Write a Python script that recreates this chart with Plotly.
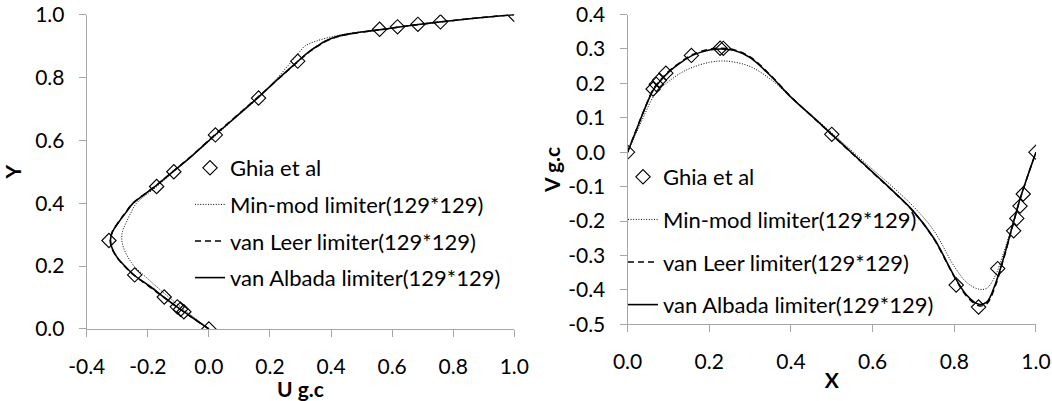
import plotly.graph_objects as go

# ---------------- data: left panel (U along vertical centreline) ----------------
ghia_u_y = [1.0, 0.9766, 0.9688, 0.9609, 0.9531, 0.8516, 0.7344, 0.6172, 0.5, 0.4531,
            0.2813, 0.1719, 0.1016, 0.0703, 0.0625, 0.0547, 0.0]
ghia_u = [1.0, 0.75837, 0.68439, 0.61756, 0.55892, 0.29093, 0.16256, 0.02135, -0.11477, -0.17119,
          -0.32726, -0.24299, -0.14612, -0.10338, -0.09266, -0.08186, 0.0]

curve_y = [0.0, 0.03, 0.055, 0.08, 0.10, 0.135, 0.17, 0.20, 0.23, 0.26, 0.285, 0.31, 0.34, 0.37,
           0.40, 0.45, 0.50, 0.55, 0.62, 0.68, 0.735, 0.80, 0.85, 0.88, 0.90, 0.915, 0.93, 0.94,
           0.948, 0.955, 0.962, 0.97, 0.978, 0.988, 1.0]
minmod_u = [0.0, -0.040, -0.073, -0.105, -0.130, -0.172, -0.212, -0.245, -0.266, -0.280, -0.285,
            -0.283, -0.270, -0.255, -0.237, -0.174, -0.115, -0.055, 0.028, 0.098, 0.162, 0.226,
            0.270, 0.296, 0.315, 0.350, 0.405, 0.460, 0.525, 0.580, 0.632, 0.697, 0.766, 0.866, 1.0]
leer_u = [0.0, -0.046, -0.083, -0.119, -0.147, -0.196, -0.244, -0.277, -0.303, -0.319, -0.323,
          -0.316, -0.296, -0.273, -0.249, -0.181, -0.119, -0.057, 0.022, 0.093, 0.158, 0.233,
          0.291, 0.327, 0.358, 0.383, 0.423, 0.473, 0.533, 0.587, 0.637, 0.701, 0.771, 0.870, 1.0]
albada_u = [0.0, -0.045, -0.082, -0.118, -0.146, -0.192, -0.243, -0.275, -0.302, -0.318, -0.322,
            -0.315, -0.295, -0.272, -0.248, -0.180, -0.118, -0.056, 0.024, 0.095, 0.160, 0.232,
            0.290, 0.325, 0.355, 0.380, 0.420, 0.470, 0.530, 0.585, 0.635, 0.700, 0.770, 0.870, 1.0]

# ---------------- data: right panel (V along horizontal centreline) ----------------
ghia_v_x = [1.0, 0.9688, 0.9609, 0.9531, 0.9453, 0.9063, 0.8594, 0.8047, 0.5, 0.2344, 0.2266,
            0.1563, 0.0938, 0.0781, 0.0703, 0.0625, 0.0]
ghia_v = [0.0, -0.12146, -0.15663, -0.19254, -0.22847, -0.33827, -0.44993, -0.38598, 0.05188,
          0.30174, 0.30203, 0.28124, 0.22965, 0.20920, 0.19713, 0.18360, 0.0]

curve_x = [0.0, 0.02, 0.04, 0.0625, 0.08, 0.10, 0.13, 0.16, 0.20, 0.23, 0.26, 0.30, 0.35, 0.40,
           0.45, 0.50, 0.55, 0.60, 0.65, 0.70, 0.75, 0.80, 0.83, 0.86, 0.88, 0.90, 0.92, 0.94,
           0.96, 0.98, 1.0]
minmod_v = [0.0, 0.052, 0.105, 0.160, 0.185, 0.205, 0.230, 0.247, 0.261, 0.265, 0.262, 0.249,
            0.212, 0.160, 0.108, 0.056, 0.003, -0.050, -0.102, -0.158, -0.228, -0.332, -0.378,
            -0.398, -0.395, -0.360, -0.295, -0.220, -0.140, -0.068, 0.0]
leer_v = [0.0, 0.061, 0.121, 0.182, 0.209, 0.234, 0.262, 0.284, 0.299, 0.302, 0.298, 0.277,
          0.224, 0.161, 0.106, 0.051, -0.004, -0.059, -0.114, -0.173, -0.252, -0.362, -0.418,
          -0.446, -0.440, -0.390, -0.313, -0.227, -0.141, -0.068, 0.0]
albada_v = [0.0, 0.060, 0.120, 0.180, 0.207, 0.232, 0.260, 0.282, 0.297, 0.300, 0.296, 0.275,
            0.222, 0.160, 0.106, 0.052, -0.003, -0.058, -0.113, -0.172, -0.250, -0.360, -0.415,
            -0.442, -0.435, -0.385, -0.310, -0.225, -0.140, -0.068, 0.0]

names = ["Ghia et al", "Min-mod limiter(129*129)", "van Leer limiter(129*129)",
         "van Albada limiter(129*129)"]

left_ticks_x = [-0.4, -0.2, 0.0, 0.2, 0.4, 0.6, 0.8, 1.0]
left_ticks_y = [0.0, 0.2, 0.4, 0.6, 0.8, 1.0]
right_ticks_x = [0.0, 0.2, 0.4, 0.6, 0.8, 1.0]
right_ticks_y = [-0.5, -0.4, -0.3, -0.2, -0.1, 0.0, 0.1, 0.2, 0.3, 0.4]

FONT = "Lato, Calibri, Carlito, sans-serif"
AX = "#a6a6a6"
EPS = 1e-4

fig = go.Figure()

def add_panel(xa, ya, leg, gx, gy, cx_list, cy_list):
    styles = [
        dict(color="black", width=1.0, dash="1px,1.6px"),
        dict(color="black", width=1.5, dash="6px,4px"),
        dict(color="black", width=1.6),
    ]
    fig.add_trace(go.Scatter(x=gx, y=gy, mode="markers", name=names[0],
                             marker=dict(symbol="diamond-open", size=11, color="black",
                                         line=dict(width=1.1, color="black")),
                             xaxis=xa, yaxis=ya, legend=leg, legendgroup=leg + "0"))
    for i, (cxv, cyv) in enumerate(zip(cx_list, cy_list)):
        fig.add_trace(go.Scatter(x=cxv, y=cyv, mode="lines", name=names[i + 1],
                                 line=dict(shape="spline", smoothing=1.0, **styles[i]),
                                 xaxis=xa, yaxis=ya, legend=leg, legendgroup=leg + str(i + 1)))

add_panel("x", "y", "legend", ghia_u, ghia_u_y,
          [minmod_u, leer_u, albada_u], [curve_y, curve_y, curve_y])
add_panel("x2", "y2", "legend2", ghia_v_x, ghia_v,
          [curve_x, curve_x, curve_x], [minmod_v, leer_v, albada_v])

def axis(domain, rng, ticks, title, anchor, standoff, lblgap):
    return dict(domain=domain, range=[rng[0] - EPS, rng[1] + EPS], tickvals=ticks,
                ticktext=[f"{t:.1f}" for t in ticks],
                showline=True, linecolor=AX, linewidth=1, mirror=False,
                ticks="outside", ticklen=7, tickcolor=AX, tickwidth=1,
                showgrid=False, zeroline=False, anchor=anchor, automargin=False,
                tickfont=dict(family=FONT, size=21, color="black"),
                ticklabelstandoff=lblgap, ticklabeloverflow="allow",
                title=dict(text=f"<b>{title}</b>", standoff=standoff,
                           font=dict(family=FONT, size=21, color="black")),
                fixedrange=True)

TOP = 1 - 14.5 / 401

fig.update_layout(
    template="none",
    width=1052, height=401,
    margin=dict(l=0, r=0, t=0, b=0, pad=0),
    paper_bgcolor="white", plot_bgcolor="white",
    font=dict(family=FONT, size=21, color="black"),
    xaxis=axis([0.0824, 0.4889], [-0.4, 1.0], left_ticks_x, "U g.c", "y", 0, 12),
    yaxis=axis([0.1796, TOP], [0.0, 1.0], left_ticks_y, "Y", "x", 9, 10),
    xaxis2=axis([0.5965, 0.9848], [0.0, 1.0], right_ticks_x, "X", "y2", 0, 12),
    yaxis2=axis([0.1913, TOP], [-0.5, 0.4], right_ticks_y, "V g.c", "x2", 1, 10),
    legend=dict(x=190 / 1052, xanchor="left", y=1 - 147 / 401, yanchor="top",
                bgcolor="rgba(0,0,0,0)", borderwidth=0, traceorder="grouped",
                tracegroupgap=5, font=dict(family=FONT, size=22, color="black"),
                itemclick=False, itemdoubleclick=False),
    legend2=dict(x=623 / 1052, xanchor="left", y=1 - 156 / 401, yanchor="top",
                 bgcolor="rgba(0,0,0,0)", borderwidth=0, traceorder="grouped",
                 tracegroupgap=11, font=dict(family=FONT, size=22, color="black"),
                 itemclick=False, itemdoubleclick=False),
)

fig.write_html("out.html")
